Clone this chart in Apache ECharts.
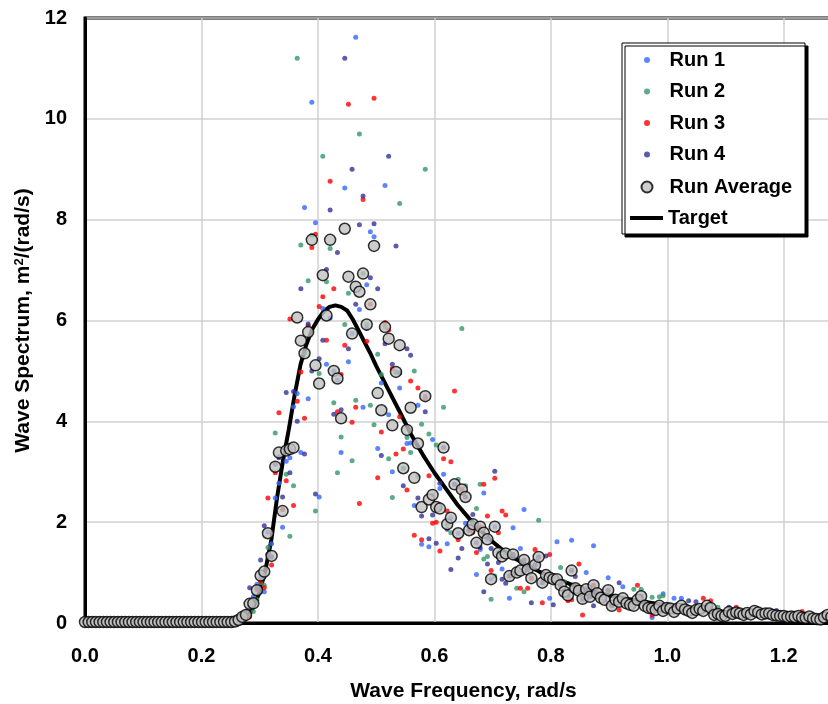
<!DOCTYPE html>
<html>
<head>
<meta charset="utf-8">
<script src="https://cdn.jsdelivr.net/npm/echarts@6/dist/echarts.min.js"></script>
<style>
  html, body { margin: 0; padding: 0; background: #ffffff; }
  #chart { width: 828px; height: 704px; }
</style>
</head>
<body>
<div id="chart"></div>
<script>
// Spectral bin width of the measured spectra, rad/s (1000 s records)
const FREQ_STEP = 0.006283;

// Axis ranges and tick steps
const xRange = [0, 1.3];
const xTickStep = 0.2;
const yRange = [0, 12];
const yTickStep = 2;

// Measured wave spectra, m^2/(rad/s), one value per frequency bin
const run1 = [
  0.02,0.02,0.02,0.02,0.02,0.02,0.02,0.02,0.02,0.02,
  0.02,0.02,0.02,0.02,0.02,0.02,0.02,0.02,0.02,0.02,
  0.02,0.02,0.02,0.02,0.02,0.02,0.02,0.02,0.02,0.02,
  0.02,0.02,0.02,0.02,0.02,0.02,0.02,0.02,0.02,0.02,
  0.02,0.03,0.05,0.10,0.15,0.38,0.52,0.77,0.90,0.62,
  1.80,1.57,2.48,2.77,1.90,3.21,3.28,4.29,4.55,3.38,
  8.24,4.45,10.33,7.94,2.50,6.24,5.13,6.05,5.00,4.82,
  3.38,8.63,5.18,5.74,11.62,6.22,4.28,6.71,7.76,7.66,
  3.46,4.76,8.68,4.13,3.00,4.98,4.66,3.07,3.56,3.57,
  2.33,4.32,1.56,4.50,1.51,3.64,2.25,2.67,2.95,1.57,
  2.09,2.75,1.78,2.65,1.98,1.84,1.96,0.96,1.46,2.58,
  1.66,0.87,1.91,1.39,1.07,1.38,0.49,1.89,1.00,1.48,
  2.25,1.06,0.89,1.15,1.31,0.80,0.95,0.49,0.87,1.61,
  0.75,0.62,0.55,1.64,0.69,0.64,0.48,1.00,0.52,1.53,
  0.59,0.50,0.46,0.90,0.34,0.46,0.42,0.72,0.39,0.36,
  0.34,0.46,0.53,0.34,0.30,0.11,0.26,0.34,0.58,0.30,
  0.29,0.49,0.29,0.49,0.27,0.24,0.20,0.26,0.28,0.24,
  0.34,0.30,0.16,0.18,0.14,0.14,0.22,0.18,0.21,0.19,
  0.16,0.20,0.17,0.24,0.21,0.17,0.19,0.19,0.16,0.15,
  0.14,0.14,0.12,0.13,0.12,0.14,0.11,0.10,0.13,0.09,
  0.08,0.07,0.11,0.16,0.12,0.10
];
const run2 = [
  0.02,0.02,0.02,0.02,0.02,0.02,0.02,0.02,0.02,0.02,
  0.02,0.02,0.02,0.02,0.02,0.02,0.02,0.02,0.02,0.02,
  0.02,0.02,0.02,0.02,0.02,0.02,0.02,0.02,0.02,0.02,
  0.02,0.02,0.02,0.02,0.02,0.02,0.02,0.02,0.02,0.02,
  0.02,0.02,0.07,0.14,0.14,0.32,0.23,0.46,0.80,0.75,
  1.50,1.30,3.77,3.30,2.25,2.95,1.72,2.72,11.20,7.50,
  5.35,6.79,7.69,2.22,4.95,9.26,6.77,7.43,4.37,2.98,
  3.69,5.92,6.54,3.22,4.42,9.70,6.93,5.92,4.32,3.93,
  5.33,4.93,5.87,3.26,2.49,4.98,8.32,3.07,3.68,3.38,
  5.00,2.91,3.94,9.00,3.75,2.54,3.53,2.27,4.28,1.96,
  1.79,2.75,2.85,5.84,2.72,1.84,1.96,2.27,2.75,1.27,
  1.32,0.47,0.93,1.39,1.32,1.38,0.93,1.36,0.69,1.04,
  0.62,1.06,0.89,1.15,2.04,0.80,0.95,0.90,0.87,0.87,
  1.10,0.82,0.55,1.04,0.69,0.64,0.48,0.67,0.52,0.75,
  0.59,0.50,0.46,0.65,0.34,0.46,0.42,0.49,0.39,0.36,
  0.67,0.46,0.67,0.34,0.30,0.51,0.26,0.52,0.54,0.30,
  0.29,0.22,0.29,0.34,0.27,0.24,0.20,0.26,0.28,0.24,
  0.34,0.30,0.16,0.31,0.14,0.14,0.22,0.18,0.21,0.19,
  0.16,0.20,0.17,0.24,0.21,0.17,0.19,0.19,0.16,0.15,
  0.14,0.14,0.12,0.13,0.12,0.14,0.11,0.10,0.13,0.09,
  0.08,0.07,0.11,0.16,0.12,0.10
];
const run3 = [
  0.02,0.02,0.02,0.02,0.02,0.02,0.02,0.02,0.02,0.02,
  0.02,0.02,0.02,0.02,0.02,0.02,0.02,0.02,0.02,0.02,
  0.02,0.02,0.02,0.02,0.02,0.02,0.02,0.02,0.02,0.02,
  0.02,0.02,0.02,0.02,0.02,0.02,0.02,0.02,0.02,0.02,
  0.02,0.04,0.06,0.12,0.13,0.13,0.40,0.66,0.83,0.70,
  2.48,1.15,2.98,4.17,2.25,2.82,6.03,2.33,4.40,4.98,
  4.06,5.90,7.45,7.71,6.28,6.47,5.61,8.76,6.63,4.19,
  4.93,5.51,10.29,3.98,4.28,2.37,8.40,5.59,6.32,10.41,
  2.88,3.79,5.96,5.81,5.05,3.35,4.09,3.45,2.64,4.80,
  1.74,4.66,1.65,4.45,2.92,1.98,2.00,1.43,3.26,2.22,
  3.20,4.60,1.65,2.65,2.50,1.84,1.80,1.40,1.91,2.75,
  2.12,1.04,2.87,1.79,2.22,2.14,0.93,1.36,1.00,0.69,
  1.25,0.69,0.89,1.46,1.31,0.40,0.95,1.36,0.87,0.87,
  0.75,0.62,0.44,0.46,0.69,1.17,0.16,0.67,0.52,0.75,
  0.59,0.50,0.46,0.65,0.34,0.46,0.26,0.49,0.39,0.36,
  0.34,0.75,0.53,0.34,0.30,0.16,0.26,0.34,0.24,0.30,
  0.29,0.22,0.29,0.34,0.27,0.24,0.20,0.26,0.28,0.49,
  0.34,0.44,0.16,0.18,0.14,0.14,0.22,0.18,0.31,0.19,
  0.16,0.20,0.17,0.24,0.21,0.17,0.19,0.19,0.16,0.15,
  0.14,0.14,0.12,0.13,0.12,0.14,0.23,0.10,0.13,0.09,
  0.08,0.07,0.11,0.16,0.12,0.10
];
const run4 = [
  0.02,0.02,0.02,0.02,0.02,0.02,0.02,0.02,0.02,0.02,
  0.02,0.02,0.02,0.02,0.02,0.02,0.02,0.02,0.02,0.02,
  0.02,0.02,0.02,0.02,0.02,0.02,0.02,0.02,0.02,0.02,
  0.02,0.02,0.02,0.02,0.02,0.02,0.02,0.02,0.02,0.02,
  0.02,0.03,0.06,0.12,0.23,0.70,0.42,0.70,1.25,1.93,
  1.37,1.32,3.15,3.28,2.50,4.57,2.98,4.59,4.00,6.63,
  3.35,5.93,5.00,2.56,5.24,5.61,7.01,8.19,4.14,7.35,
  4.23,11.20,5.44,9.00,6.32,7.90,8.47,5.84,6.85,7.92,
  6.63,3.32,5.54,9.26,5.13,7.48,4.96,2.72,5.44,5.31,
  3.60,2.48,2.12,4.19,1.67,2.14,1.58,2.77,3.48,1.86,
  1.06,2.75,1.29,1.48,2.50,1.84,2.15,1.59,1.50,0.62,
  1.17,1.48,3.01,1.20,0.87,0.79,0.93,1.36,1.00,1.04,
  1.25,1.06,0.40,1.15,1.31,0.80,1.33,0.90,0.36,0.87,
  0.75,0.62,0.55,1.04,0.92,0.64,0.46,0.67,0.52,0.34,
  0.59,0.50,0.46,0.65,0.34,0.46,0.80,0.49,0.39,0.36,
  0.34,0.46,0.53,0.34,0.30,0.29,0.26,0.34,0.24,0.30,
  0.29,0.22,0.29,0.34,0.27,0.44,0.20,0.42,0.28,0.24,
  0.34,0.30,0.16,0.18,0.14,0.14,0.31,0.18,0.21,0.19,
  0.16,0.20,0.17,0.24,0.21,0.17,0.19,0.19,0.16,0.25,
  0.14,0.14,0.12,0.13,0.12,0.14,0.11,0.10,0.13,0.09,
  0.08,0.07,0.20,0.16,0.12,0.10
];
const runAverage = [
  0.02,0.02,0.02,0.02,0.02,0.02,0.02,0.02,0.02,0.02,
  0.02,0.02,0.02,0.02,0.02,0.02,0.02,0.02,0.02,0.02,
  0.02,0.02,0.02,0.02,0.02,0.02,0.02,0.02,0.02,0.02,
  0.02,0.02,0.02,0.02,0.02,0.02,0.02,0.02,0.02,0.02,
  0.02,0.03,0.06,0.12,0.16,0.38,0.39,0.65,0.94,1.02,
  1.78,1.33,3.10,3.38,2.22,3.42,3.45,3.48,6.06,5.60,
  5.35,5.77,7.60,5.11,4.75,6.90,6.10,7.60,5.00,4.85,
  4.06,7.82,6.87,5.74,6.67,6.57,6.93,5.92,6.32,7.48,
  4.56,4.22,5.87,5.64,3.92,4.98,5.51,3.07,3.83,4.27,
  2.88,3.56,2.30,4.50,2.45,2.54,2.30,2.27,3.48,1.96,
  2.09,2.75,1.78,2.65,2.50,1.84,1.96,1.59,1.91,1.79,
  1.66,0.87,1.91,1.39,1.32,1.38,0.93,1.36,1.00,1.04,
  1.25,1.06,0.89,1.15,1.31,0.80,0.95,0.90,0.87,0.87,
  0.75,0.62,0.55,1.04,0.69,0.64,0.48,0.67,0.52,0.75,
  0.59,0.50,0.46,0.65,0.34,0.46,0.42,0.49,0.39,0.36,
  0.34,0.46,0.53,0.34,0.30,0.29,0.26,0.34,0.24,0.30,
  0.29,0.22,0.29,0.34,0.27,0.24,0.20,0.26,0.28,0.24,
  0.34,0.30,0.16,0.18,0.14,0.14,0.22,0.18,0.21,0.19,
  0.16,0.20,0.17,0.24,0.21,0.17,0.19,0.19,0.16,0.15,
  0.14,0.14,0.12,0.13,0.12,0.14,0.11,0.10,0.13,0.09,
  0.08,0.07,0.11,0.16,0.12,0.10
];

// Target spectrum
const targetFreq = [0, 0.25, 0.26, 0.27, 0.28, 0.29, 0.30, 0.31, 0.32, 0.33, 0.34, 0.35, 0.36, 0.37, 0.38, 0.39,
  0.40, 0.41, 0.42, 0.43, 0.44, 0.45, 0.46, 0.47, 0.48, 0.49, 0.50, 0.52, 0.54, 0.56, 0.58, 0.60, 0.62, 0.64,
  0.66, 0.68, 0.70, 0.72, 0.74, 0.76, 0.78, 0.80, 0.84, 0.88, 0.92, 0.96, 1.00, 1.05, 1.10, 1.15, 1.20, 1.25, 1.30];
const targetSpec = [0, 0, 0.01, 0.04, 0.14, 0.33, 0.62, 1.06, 1.65, 2.50, 3.22, 3.84, 4.52, 5.12, 5.52, 5.82,
  6.02, 6.18, 6.27, 6.30, 6.27, 6.20, 6.02, 5.80, 5.57, 5.35, 5.10, 4.65, 4.20, 3.74, 3.34, 2.98, 2.66, 2.34,
  2.07, 1.83, 1.61, 1.42, 1.27, 1.14, 1.02, 0.92, 0.74, 0.60, 0.50, 0.42, 0.35, 0.28, 0.22, 0.18, 0.14, 0.11, 0.09];

const seriesNames = ['Run 1', 'Run 2', 'Run 3', 'Run 4', 'Run Average', 'Target'];
const runColors = ['#3366ff', '#339966', '#ff0000', '#333399'];

const freq = runAverage.map((_, k) => k * FREQ_STEP);
const pairs = (vals) => vals.map((v, k) => [freq[k], v]);

const FONT = 'Liberation Sans, Arial, Helvetica, sans-serif';
const labelStyle = { color: '#000', fontFamily: FONT, fontWeight: 'bold', fontSize: 20 };
const legendText = { color: '#000', fontFamily: FONT, fontWeight: 'bold', fontSize: 20, lineHeight: 20 };

const chart = echarts.init(document.getElementById('chart'), null, { renderer: 'canvas' });

const runSeries = [run1, run2, run3, run4].map((vals, i) => ({
  name: seriesNames[i],
  type: 'scatter',
  data: pairs(vals),
  symbol: 'circle',
  symbolSize: 5,
  itemStyle: { color: runColors[i] },
  z: 3
}));

chart.setOption({
  animation: false,
  backgroundColor: '#ffffff',
  grid: {
    left: 85, top: 18, width: 757, height: 605,
    outerBoundsMode: 'none', containLabel: false,
    show: true, borderColor: '#000', borderWidth: 3, backgroundColor: 'transparent'
  },
  xAxis: {
    type: 'value',
    min: xRange[0], max: xRange[1], interval: xTickStep,
    name: 'Wave Frequency, rad/s',
    nameLocation: 'middle',
    nameGap: 58,
    nameTextStyle: { color: '#000', fontFamily: FONT, fontWeight: 'bold', fontSize: 21 },
    axisLine: { show: true, lineStyle: { color: '#000', width: 3 } },
    axisTick: { show: false },
    axisLabel: Object.assign({ margin: 23, showMaxLabel: false, formatter: (v) => v.toFixed(1) }, labelStyle),
    splitLine: { show: true, lineStyle: { color: '#d0d0d0', width: 1.5 } }
  },
  yAxis: {
    type: 'value',
    min: yRange[0], max: yRange[1], interval: yTickStep,
    name: 'Wave Spectrum, m{sup|2}/(rad/s)',
    nameLocation: 'middle',
    nameGap: 40,
    nameTextStyle: {
      color: '#000', fontFamily: FONT, fontWeight: 'bold', fontSize: 21,
      rich: { sup: { color: '#000', fontFamily: FONT, fontWeight: 'bold', fontSize: 13, verticalAlign: 'top', lineHeight: 14 } }
    },
    axisLine: { show: true, lineStyle: { color: '#000', width: 3 } },
    axisTick: { show: false },
    axisLabel: Object.assign({ margin: 18 }, labelStyle),
    splitLine: { show: true, lineStyle: { color: '#d0d0d0', width: 1.5 } }
  },
  legend: [
    {
      data: seriesNames.slice(0, 4), orient: 'vertical', left: 644, top: 50,
      itemWidth: 35, itemHeight: 6, itemGap: 11.5, padding: 0, selectedMode: false,
      textStyle: legendText, z: 10
    },
    {
      data: [seriesNames[4]], orient: 'vertical', left: 640.5, top: 177,
      itemWidth: 35, itemHeight: 11, padding: 0, selectedMode: false,
      textStyle: legendText, z: 10
    },
    {
      data: [{ name: seriesNames[5], icon: 'rect' }], orient: 'vertical', left: 630, top: 208,
      itemWidth: 33, itemHeight: 4, padding: 0, selectedMode: false,
      itemStyle: { color: '#000' },
      textStyle: legendText, z: 10
    }
  ],
  graphic: [{
    type: 'rect', z: 8,
    shape: { x: 622, y: 43, width: 183, height: 191 },
    style: { fill: '#ffffff', stroke: '#000', lineWidth: 1, shadowColor: '#000', shadowOffsetX: 3, shadowOffsetY: 3, shadowBlur: 0 }
  }],
  series: [
    {
      name: seriesNames[5],
      type: 'line',
      data: targetFreq.map((f, i) => [f, targetSpec[i]]),
      showSymbol: false,
      symbol: 'none',
      lineStyle: { color: '#000', width: 4 },
      itemStyle: { color: '#000' },
      z: 2
    },
    ...runSeries,
    {
      name: seriesNames[4],
      type: 'scatter',
      data: pairs(runAverage),
      symbol: 'circle',
      symbolSize: 11,
      itemStyle: { color: '#c0c0c0', borderColor: '#000', borderWidth: 1.5 },
      z: 4
    }
  ]
});
</script>
</body>
</html>
